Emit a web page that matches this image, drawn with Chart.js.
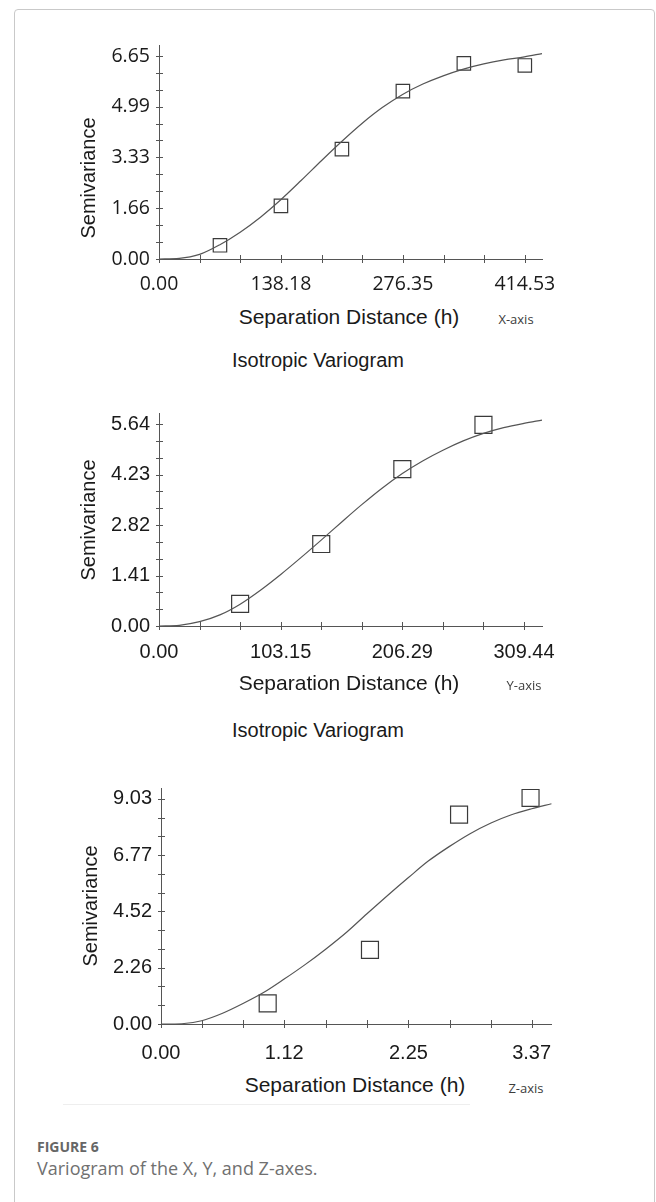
<!DOCTYPE html>
<html>
<head>
<meta charset="utf-8">
<script src="https://cdn.jsdelivr.net/npm/chart.js@4.4.1/dist/chart.umd.min.js"></script>
<style>
  body { margin: 0; background: #fff; width: 656px; height: 1202px; overflow: hidden; position: relative; }
  canvas { position: absolute; left: 0; }
  .frame { position: absolute; left: 14px; top: 9px; width: 641px; height: 1300px; box-sizing: border-box;
           border: 1px solid #c9c9c9; border-radius: 4px; }
  .t { position: absolute; white-space: nowrap; line-height: 1; transform: translate(-50%, -50%); color: #1a1a1a; }
  .ytitle { font: 20px "Liberation Sans", Arial, sans-serif; transform: translate(-50%, -50%) rotate(-90deg); }
  .xtitle { font: 21px "Liberation Sans", Arial, sans-serif; }
  .axname { font: 13px "Open Sans", sans-serif; color: #3c3c3c; }
  .iso { position: absolute; left: 232px; font: 20px "Liberation Sans", Arial, sans-serif; color: #1a1a1a; line-height: 1; transform: translateY(-50%); }
  .fig { position: absolute; left: 37px; font: bold 14px "Open Sans", sans-serif; color: #666; line-height: 1; transform: translateY(-50%); }
  .cap { position: absolute; left: 37px; font: 18px "Open Sans", sans-serif; color: #707070; line-height: 1; transform: translateY(-50%); white-space: nowrap; }
</style>
</head>
<body>
<div class="frame"></div>

<canvas id="chartX" width="656" height="300" style="top:0px"></canvas>
<canvas id="chartY" width="656" height="300" style="top:380px"></canvas>
<canvas id="chartZ" width="656" height="310" style="top:760px"></canvas>

<div class="t ytitle" style="left:88px; top:178px">Semivariance</div>
<div class="t xtitle" style="left:349px; top:317px">Separation Distance (h)</div>
<div class="t axname" style="left:516px; top:319px">X-axis</div>
<div class="iso" style="top:360px">Isotropic Variogram</div>

<div class="t ytitle" style="left:88px; top:520px">Semivariance</div>
<div class="t xtitle" style="left:349px; top:683px">Separation Distance (h)</div>
<div class="t axname" style="left:524px; top:685px">Y-axis</div>
<div class="iso" style="top:730px">Isotropic Variogram</div>

<div class="t ytitle" style="left:90px; top:906px">Semivariance</div>
<div class="t xtitle" style="left:355px; top:1085px">Separation Distance (h)</div>
<div class="t axname" style="left:526px; top:1088px">Z-axis</div>

<div style="position:absolute; left:63px; top:1104px; width:407px; height:1px; background:#eeeeee"></div>
<div class="fig" style="top:1147px">FIGURE 6</div>
<div class="cap" style="top:1168px">Variogram of the X, Y, and Z-axes.</div>

<script>
// ---- X direction ----
const xLag = [69.09, 138.18, 207.27, 276.35, 345.44, 414.53];
const xGamma = [0.45, 1.74, 3.60, 5.50, 6.41, 6.34];
const xFitH = [0, 23, 46, 69, 92, 115, 138, 161, 184, 207, 230, 253, 276, 299, 322, 345, 368, 391, 414, 434];
const xFitG = [0, 0.02, 0.15, 0.47, 0.88, 1.37, 1.94, 2.57, 3.22, 3.85, 4.44, 4.96, 5.39, 5.73, 6.00, 6.22, 6.39, 6.52, 6.62, 6.73];
const xTicksH = ['0.00', '138.18', '276.35', '414.53'];
const xTicksG = ['0.00', '1.66', '3.33', '4.99', '6.65'];

// ---- Y direction ----
const yLag = [68.77, 137.53, 206.29, 275.06];
const yGamma = [0.62, 2.29, 4.38, 5.62];
const yFitH = [0, 17.2, 34.4, 51.6, 68.8, 86.0, 103.2, 120.3, 137.5, 154.7, 171.9, 189.1, 206.3, 223.5, 240.7, 257.9, 275.1, 292.2, 309.4, 324.7];
const yFitG = [0, 0.02, 0.12, 0.31, 0.61, 1.00, 1.44, 1.91, 2.40, 2.90, 3.39, 3.85, 4.26, 4.61, 4.91, 5.17, 5.38, 5.54, 5.66, 5.75];
const yTicksH = ['0.00', '103.15', '206.29', '309.44'];
const yTicksG = ['0.00', '1.41', '2.82', '4.23', '5.64'];

// ---- Z direction ----
const zLag = [0.97, 1.90, 2.71, 3.36];
const zGamma = [0.83, 2.97, 8.39, 9.06];
const zFitH = [0, 0.19, 0.37, 0.56, 0.75, 0.94, 1.12, 1.31, 1.50, 1.69, 1.87, 2.06, 2.25, 2.43, 2.62, 2.81, 3.00, 3.18, 3.37, 3.55];
const zFitG = [0, 0.01, 0.13, 0.43, 0.83, 1.28, 1.80, 2.38, 3.01, 3.69, 4.41, 5.15, 5.87, 6.53, 7.11, 7.63, 8.06, 8.38, 8.63, 8.83];
const zTicksH = ['0.00', '1.12', '2.25', '3.37'];
const zTicksG = ['0.00', '2.26', '4.52', '6.77', '9.03'];

const lineCol = '#555555';

// labelled ticks plus two unlabelled ticks between each pair
function withMinor(labels) {
  const v = labels.map(Number);
  const out = [];
  for (let i = 0; i < v.length; i++) {
    out.push(v[i]);
    if (i < v.length - 1) {
      const d = (v[i + 1] - v[i]) / 3;
      out.push(v[i] + d, v[i] + 2 * d);
    }
  }
  return out;
}

// small tick marks that cross the axis lines
const crossTicks = {
  id: 'crossTicks',
  afterDraw(chart) {
    const ctx = chart.ctx, a = chart.chartArea;
    ctx.save();
    ctx.strokeStyle = lineCol;
    ctx.lineWidth = 1;
    ctx.beginPath();
    chart.scales.x.ticks.forEach(t => {
      const px = Math.round(chart.scales.x.getPixelForValue(t.value)) + 0.5;
      ctx.moveTo(px, a.bottom - 4);
      ctx.lineTo(px, a.bottom + 4);
    });
    chart.scales.y.ticks.forEach(t => {
      const py = Math.round(chart.scales.y.getPixelForValue(t.value)) + 0.5;
      ctx.moveTo(a.left - 3, py);
      ctx.lineTo(a.left + 4, py);
    });
    ctx.stroke();
    ctx.restore();
  }
};

function variogram(id, o) {
  const canvas = document.getElementById(id);
  const top = parseFloat(canvas.style.top);
  const tickFont = { family: o.font, size: o.fontSize };
  return new Chart(canvas.getContext('2d'), {
    type: 'scatter',
    data: {
      datasets: [{
        // fitted model
        data: o.fitH.map((h, i) => ({ x: h, y: o.fitG[i] })),
        showLine: true,
        cubicInterpolationMode: 'monotone',
        borderColor: lineCol,
        borderWidth: 1.2,
        pointRadius: 0,
        clip: false
      }, {
        // experimental semivariance
        data: o.lag.map((h, i) => ({ x: h, y: o.gamma[i] })),
        showLine: false,
        pointStyle: 'rect',
        pointRadius: o.box,
        pointBackgroundColor: 'rgba(0,0,0,0)',
        pointBorderColor: '#3a3a3a',
        pointBorderWidth: 1.2,
        clip: false
      }]
    },
    options: {
      responsive: false,
      animation: false,
      devicePixelRatio: 1,
      layout: { padding: { left: 0, right: 656 - o.right, top: o.top - top, bottom: 0 } },
      plugins: { legend: { display: false }, tooltip: { enabled: false } },
      scales: {
        x: {
          type: 'linear',
          min: 0, max: o.xMax,
          afterFit: s => { s.height = canvas.height - (o.bottom - top); },
          afterBuildTicks: s => { s.ticks = withMinor(o.ticksH).map(v => ({ value: v })); },
          grid: { display: false, drawTicks: false },
          border: { display: true, color: lineCol, width: 1 },
          ticks: {
            autoSkip: false, maxRotation: 0, padding: o.xPad,
            color: '#1a1a1a', font: tickFont,
            callback: (v, i) => (i % 3 === 0 ? o.ticksH[i / 3] : '')
          }
        },
        y: {
          type: 'linear',
          min: 0, max: o.yMax,
          afterFit: s => { s.width = o.left; },
          afterBuildTicks: s => { s.ticks = withMinor(o.ticksG).map(v => ({ value: v })); },
          grid: { display: false, drawTicks: false },
          border: { display: true, color: lineCol, width: 1 },
          ticks: {
            autoSkip: false, padding: 9,
            color: '#1a1a1a', font: tickFont,
            callback: (v, i) => (i % 3 === 0 ? o.ticksG[i / 3] : '')
          }
        }
      }
    },
    plugins: [crossTicks]
  });
}

variogram('chartX', {
  lag: xLag, gamma: xGamma, fitH: xFitH, fitG: xFitG, ticksH: xTicksH, ticksG: xTicksG,
  xMax: 434, yMax: 7.01, left: 159, right: 542, top: 45, bottom: 259,
  font: '"Open Sans", sans-serif', fontSize: 19.5, xPad: 14, box: 9.5
});
variogram('chartY', {
  lag: yLag, gamma: yGamma, fitH: yFitH, fitG: yFitG, ticksH: yTicksH, ticksG: yTicksG,
  xMax: 324.7, yMax: 5.95, left: 159, right: 542, top: 413, bottom: 626,
  font: '"Liberation Sans", Arial, sans-serif', fontSize: 20, xPad: 14, box: 12
});
variogram('chartZ', {
  lag: zLag, gamma: zGamma, fitH: zFitH, fitG: zFitG, ticksH: zTicksH, ticksG: zTicksG,
  xMax: 3.546, yMax: 9.46, left: 161, right: 551, top: 788, bottom: 1024,
  font: '"Liberation Sans", Arial, sans-serif', fontSize: 20, xPad: 17, box: 12
});
</script>
</body>
</html>
